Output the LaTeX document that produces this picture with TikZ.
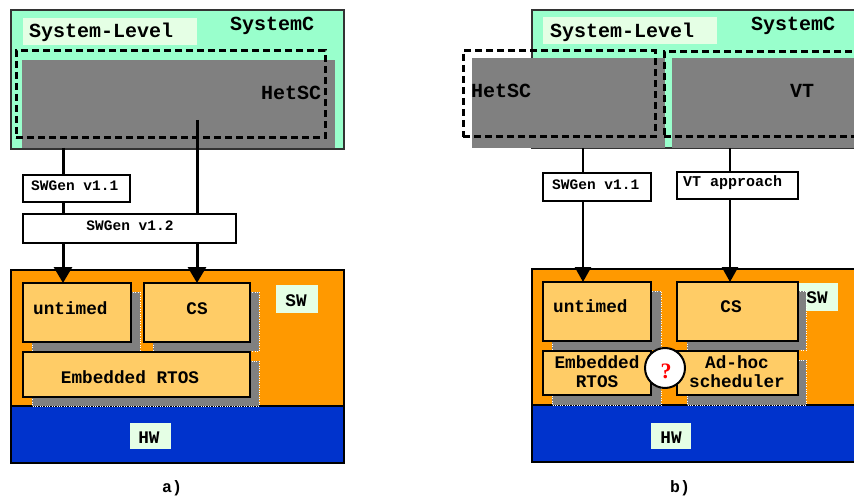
\documentclass[tikz,border=0pt]{standalone}
\usepackage{fontspec}
\setmonofont{Liberation Mono}
\newfontfamily\markfont{Liberation Serif}
\usetikzlibrary{arrows.meta}
\definecolor{mint}{HTML}{99FFCC}
\definecolor{pale}{HTML}{E5FFE5}
\definecolor{modelgray}{HTML}{808080}
\definecolor{orng}{HTML}{FF9900}
\definecolor{lorng}{HTML}{FFCC66}
\definecolor{hwblue}{HTML}{0033CC}

\begin{document}
\begin{tikzpicture}[x=1pt,y=-1pt,
  blk/.style={rectangle, anchor=north west, inner sep=0, outer sep=0},
  layer/.style={blk, draw=black, line width=1.3pt},
  tag/.style={blk, fill=pale},
  comp/.style={blk, draw=black, line width=1.3pt, fill=lorng},
  gen/.style={blk, draw=black, line width=1.2pt, fill=white},
  model/.style={blk, fill=modelgray},
  dashbox/.style={blk, draw=black, line width=3pt, dash pattern=on 7pt off 4pt},
  shade/.style={fill=modelgray, draw=white, dotted, line width=0.4pt},
  big/.style={inner sep=0, font=\ttfamily\bfseries\fontsize{20}{24}\selectfont},
  mid/.style={inner sep=0, font=\ttfamily\bfseries\fontsize{17.7}{21}\selectfont},
  small/.style={inner sep=0, font=\ttfamily\bfseries\fontsize{14.5}{17}\selectfont},
  flowA/.style={line width=3pt, -{Triangle[width=18pt,length=16pt]}},
  flowB/.style={line width=2.5pt, -{Triangle[width=16pt,length=15pt]}},
]
\path[use as bounding box] (0,0) rectangle (854,497);
\fill[white] (0,0) rectangle (854,497);
\clip (0,0) rectangle (854,497);

% ===================== a) =====================
% system level
\node[layer, fill=mint, draw=black!80, line width=1.2pt, minimum width=333, minimum height=139] (sysA) at (11,10) {};
\node[tag, minimum width=174, minimum height=27] (labA) at (23,18) {};
\node[big, anchor=base west] (tLabA) at (29,38) {System-Level};
\node[big, anchor=base west] (tScA) at (230,31) {SystemC};
\node[model, minimum width=313, minimum height=88] (hetA) at (22,60) {};
\node[dashbox, minimum width=309, minimum height=87] (hetDA) at (16,51) {};
\node[big, anchor=base west] (tHetA) at (261,100) {HetSC};

% software and hardware layers
\node[layer, fill=orng, minimum width=333, minimum height=136] (swA) at (11,270) {};
\node[layer, fill=hwblue, minimum width=333, minimum height=57] (hwA) at (11,406) {};
\node[tag, minimum width=42, minimum height=28] (swTagA) at (276,285) {};
\node[mid, anchor=base] (tSwA) at (296,306) {SW};
\node[tag, minimum width=41, minimum height=26] (hwTagA) at (130,423) {};
\node[mid, anchor=base] (tHwA) at (149,443) {HW};

% software components
\path[shade] (32,292) rectangle +(108,59);
\path[shade] (153,292) rectangle +(106,59);
\path[shade] (32,361) rectangle +(227,45);
\node[comp, minimum width=108, minimum height=59] (untA) at (23,283) {};
\node[mid, anchor=base west] (tUntA) at (33,314) {untimed};
\node[comp, minimum width=106, minimum height=59] (csA) at (144,283) {};
\node[mid, anchor=base] (tCsA) at (197,314) {CS};
\node[comp, minimum width=227, minimum height=45] (rtosA) at (23,352) {};
\node[mid, anchor=base] (tRtosA) at (130,383) {Embedded RTOS};

% generation flows
\coordinate (fromHetA) at (63,148);
\coordinate (fromHetA2) at (197,120);
\draw[flowA] (fromHetA) -- (fromHetA |- untA.north);
\draw[flowA] (fromHetA2) -- (fromHetA2 |- csA.north);
\node[gen, minimum width=107, minimum height=27] (gen1A) at (23,175) {};
\node[small, anchor=base west] (tGen1A) at (31,191) {SWGen v1.1};
\node[gen, minimum width=213, minimum height=29] (gen2A) at (23,214) {};
\node[small, anchor=base] (tGen2A) at (130,231) {SWGen v1.2};

\node[small, font=\ttfamily\bfseries\fontsize{16.5}{19}\selectfont, anchor=base] (capA) at (172,492) {a)};

% ===================== b) =====================
\node[layer, fill=mint, draw=black!80, line width=1.2pt, minimum width=340, minimum height=138] (sysB) at (532,10) {};
\node[tag, minimum width=174, minimum height=27] (labB) at (543,17) {};
\node[big, anchor=base west] (tLabB) at (550,38) {System-Level};
\node[big, anchor=base west] (tScB) at (751,31) {SystemC};
\node[model, minimum width=193, minimum height=90] (hetB) at (472,58) {};
\node[model, minimum width=200, minimum height=90] (vtB) at (672,58) {};
\node[dashbox, minimum width=192, minimum height=86] (hetDB) at (463,51) {};
\node[dashbox, minimum width=200, minimum height=85] (vtDB) at (664,52) {};
\node[big, anchor=base west] (tHetB) at (471,98) {HetSC};
\node[big, anchor=base west] (tVtB) at (790,98) {VT};

\node[layer, fill=orng, minimum width=340, minimum height=136] (swB) at (532,269) {};
\node[layer, fill=hwblue, minimum width=340, minimum height=57] (hwB) at (532,405) {};
\node[tag, minimum width=40, minimum height=28] (swTagB) at (798,283) {};
\node[mid, anchor=base] (tSwB) at (817,303) {SW};
\node[tag, minimum width=40, minimum height=26] (hwTagB) at (651,423) {};
\node[mid, anchor=base] (tHwB) at (671,443) {HW};

\path[shade] (552,291) rectangle +(109,59);
\path[shade] (687,291) rectangle +(119,59);
\path[shade] (552,360) rectangle +(109,45);
\path[shade] (687,360) rectangle +(119,45);
\node[comp, minimum width=108, minimum height=59] (untB) at (543,282) {};
\node[mid, anchor=base west] (tUntB) at (553,312) {untimed};
\node[comp, minimum width=121, minimum height=59] (csB) at (677,282) {};
\node[mid, anchor=base] (tCsB) at (731,312) {CS};
\node[comp, minimum width=108, minimum height=44] (rtosB) at (543,351) {};
\node[mid, anchor=base] (tRtosB1) at (597,368) {Embedded};
\node[mid, anchor=base] (tRtosB2) at (597,387) {RTOS};
\node[comp, minimum width=121, minimum height=44] (adhB) at (677,351) {};
\node[mid, anchor=base] (tAdhB1) at (737,368) {Ad-hoc};
\node[mid, anchor=base] (tAdhB2) at (737,387) {scheduler};

\coordinate (fromHetB) at (583,148);
\coordinate (fromVtB) at (730,148);
\draw[flowB] (fromHetB) -- (fromHetB |- untB.north);
\draw[flowB] (fromVtB) -- (fromVtB |- csB.north);
\node[gen, minimum width=108, minimum height=28] (genB) at (543,173) {};
\node[small, anchor=base west] (tGenB) at (552,190) {SWGen v1.1};
\node[gen, minimum width=121, minimum height=27] (vtaB) at (677,172) {};
\node[small, font=\ttfamily\bfseries\fontsize{15}{18}\selectfont, anchor=base west] (tVtaB) at (683,187) {VT approach};

% open question between the two schedulers
\node[circle, draw=black, line width=2pt, fill=white, minimum size=40, inner sep=0] (qB) at (665,368) {};
\node[inner sep=0, text=red, font=\markfont\bfseries\fontsize{22}{24}\selectfont, anchor=base] (tQB) at (666,378) {?};

\node[small, font=\ttfamily\bfseries\fontsize{16.5}{19}\selectfont, anchor=base] (capB) at (680,492) {b)};
\end{tikzpicture}
\end{document}
